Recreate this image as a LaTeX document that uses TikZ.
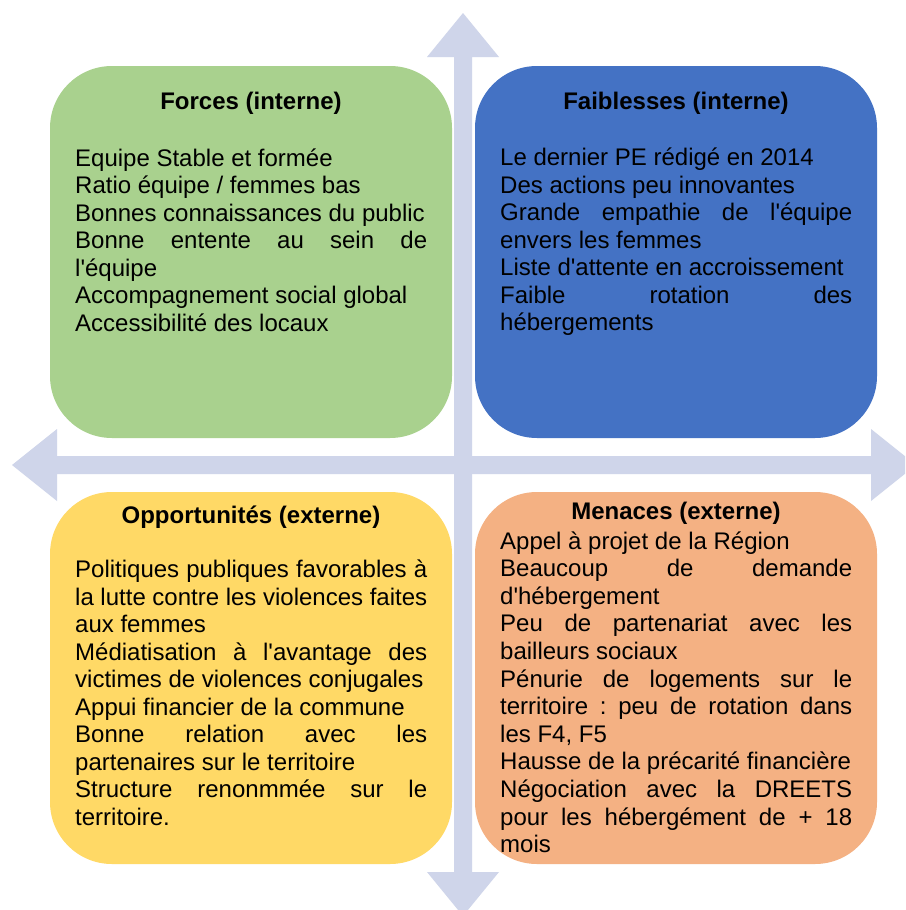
\documentclass[tikz,border=0pt]{standalone}
\usepackage{fontspec}
\setmainfont{Liberation Sans}[Ligatures=TeXOff]
\frenchspacing
\definecolor{arrowc}{HTML}{CFD5EA}
\definecolor{forcec}{HTML}{A9D18E}
\definecolor{faibc}{HTML}{4472C4}
\definecolor{oppc}{HTML}{FFD966}
\definecolor{menc}{HTML}{F4B183}
\newlength\tw
\setlength\tw{352pt}
\newcommand\jl[1]{\hbox{\makebox[\tw][s]{#1}}}
\newcommand\nl[1]{\hbox{#1}}
\tikzset{
  quad/.style={rounded corners=62pt, minimum width=402pt, minimum height=372pt, inner sep=0pt, draw=none},
  ttl/.style={anchor=base, inner sep=0pt, font=\fontsize{24}{27}\selectfont\bfseries},
  body/.style={anchor=base west, inner sep=0pt, font=\fontsize{24}{27}\selectfont\frenchspacing},
  axis/.style={fill=arrowc, draw=none}
}
\begin{document}
\begin{tikzpicture}[x=1pt,y=-1pt]
\clip (0,0) rectangle (905,910);
\fill[white] (0,0) rectangle (905,910);
% axes
\fill[axis] (454,57) -- (427,57) -- (463,13) -- (499,57) -- (472,57) -- (472,872) -- (499,872) -- (463,916) -- (427,872) -- (454,872) -- cycle;
\fill[axis] (57,456) -- (57,429) -- (12,465) -- (57,501) -- (57,474) -- (871,474) -- (871,501) -- (916,465) -- (871,429) -- (871,456) -- cycle;
% boxes
\node[quad, fill=forcec] (forces) at (251,252) {};
\node[quad, fill=faibc] (faib) at (676,252) {};
\node[quad, fill=oppc] (opp) at (251,678) {};
\node[quad, fill=menc] (men) at (676,678) {};
% titles
\node[ttl] (tforces) at (251,109) {Forces (interne)};
\node[ttl] (tfaib) at (676,109) {Faiblesses (interne)};
\node[ttl] (topp) at (251,523) {Opportunités (externe)};
\node[ttl] (tmen) at (676,519.5) {Menaces (externe)};
% bodies
\node[body] (bforces) at (75,166) {\vtop{\baselineskip=27.55pt
\nl{Equipe Stable et formée}
\nl{Ratio équipe / femmes bas}
\nl{Bonnes connaissances du public}
\jl{Bonne entente au sein de}
\nl{l'équipe}
\nl{Accompagnement social global}
\nl{Accessibilité des locaux}}};
\node[body] (bfaib) at (500,165.5) {\vtop{\baselineskip=27.55pt
\nl{Le dernier PE rédigé en 2014}
\nl{Des actions peu innovantes}
\jl{Grande empathie de l'équipe}
\nl{envers les femmes}
\nl{Liste d'attente en accroissement}
\jl{Faible rotation des}
\nl{hébergements}}};
\node[body] (bopp) at (75,577.5) {\vtop{\baselineskip=27.5pt
\jl{Politiques publiques favorables à}
\jl{la lutte contre les violences faites}
\nl{aux femmes}
\jl{Médiatisation à l'avantage des}
\nl{victimes de violences conjugales}
\nl{Appui financier de la commune}
\jl{Bonne relation avec les}
\nl{partenaires sur le territoire}
\jl{Structure renonmmée sur le}
\nl{territoire.}}};
\node[body] (bmen) at (500,549) {\vtop{\baselineskip=27.6pt
\nl{Appel à projet de la Région}
\jl{Beaucoup de demande}
\nl{d'hébergement}
\jl{Peu de partenariat avec les}
\nl{bailleurs sociaux}
\jl{Pénurie de logements sur le}
\jl{territoire : peu de rotation dans}
\nl{les F4, F5}
\nl{Hausse de la précarité financière}
\jl{Négociation avec la DREETS}
\jl{pour les hébergément de + 18}
\nl{mois}}};
\end{tikzpicture}
\end{document}
